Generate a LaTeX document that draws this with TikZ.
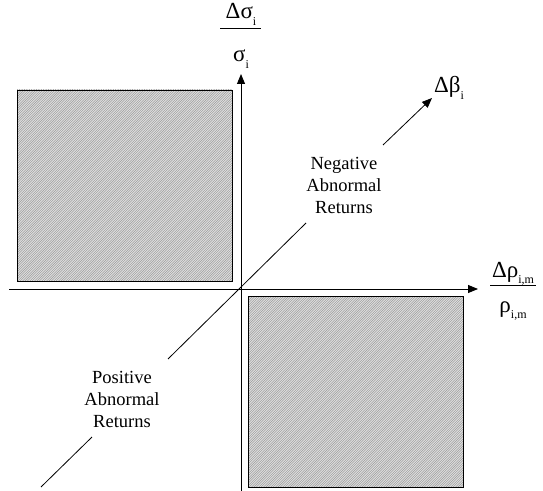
\documentclass[tikz,border=0pt]{standalone}
\usepackage{fontspec}
\setmainfont{Liberation Serif}
\usetikzlibrary{arrows.meta}
\newcommand{\lowsub}[1]{\raisebox{-0.28em}{\fontsize{12bp}{12bp}\selectfont #1}}
\tikzset{
  axis/.style={line width=0.9bp,-{Triangle[length=10bp,width=8bp]}},
  diag/.style={line width=0.8bp},
  boxfill/.style={fill=gray!18},
  boxedge/.style={draw=black,line width=0.9bp},
  hatchline/.style={draw=gray!70,line width=0.75bp},
  lbl/.style={font=\fontsize{18.5bp}{22bp}\selectfont,align=center,inner sep=0pt},
  glbl/.style={font=\fontsize{23bp}{26bp}\selectfont,inner sep=0pt},
  fbar/.style={line width=0.8bp}
}
\begin{document}
\begin{tikzpicture}[x=1bp,y=-1bp]
\useasboundingbox (0,0) rectangle (543,491);
% shaded boxes
\path[boxfill] (17,90) rectangle (232,281);
\begin{scope}
  \clip (17,90) rectangle (232,281);
  \foreach \s in {-200,-197.6,...,240} \draw[hatchline] (\s,290) -- ({\s+215},75);
\end{scope}
\path[boxedge] (17,90) rectangle (232,281);
\path[boxfill] (248,296) rectangle (463,487);
\begin{scope}
  \clip (248,296) rectangle (463,487);
  \foreach \s in {30,32.4,...,470} \draw[hatchline] (\s,495) -- ({\s+215},280);
\end{scope}
\path[boxedge] (248,296) rectangle (463,487);
% axes
\coordinate (vb) at (241,491);
\coordinate (vt) at (241,74);
\coordinate (hl) at (9,289);
\coordinate (hr) at (478,289);
\draw[axis] (vb) -- (vt);
\draw[axis] (hl) -- (hr);
% diagonal axis
\coordinate (d1) at (41,487);
\coordinate (d2) at (92,437);
\coordinate (d3) at (168,359);
\coordinate (d4) at (306,223);
\coordinate (d5) at (383,145);
\coordinate (d6) at (432,98);
\draw[diag] (d1) -- (d2);
\draw[diag] (d3) -- (d4);
\draw[diag,-{Triangle[length=10bp,width=8bp]}] (d5) -- (d6);
% labels
\node[lbl] (neg) at (344,185) {Negative\\Abnormal\\Returns};
\node[lbl] (pos) at (122,399) {Positive\\Abnormal\\Returns};
% sigma fraction
\node[glbl,anchor=base] (snum) at (241,19) {Δσ\lowsub{i}};
\coordinate (sb1) at (220,28);
\coordinate (sb2) at (261,28);
\draw[fbar] (sb1) -- (sb2);
\node[glbl,anchor=base] (sden) at (241,62) {σ\lowsub{i}};
% rho fraction
\node[glbl,anchor=base] (rnum) at (513,277) {Δρ\lowsub{i,m}};
\coordinate (rb1) at (490,285);
\coordinate (rb2) at (536,285);
\draw[fbar] (rb1) -- (rb2);
\node[glbl,anchor=base] (rden) at (513,312) {ρ\lowsub{i,m}};
% beta
\node[glbl,anchor=base west] (beta) at (434,93) {Δβ\lowsub{i}};
\end{tikzpicture}
\end{document}
